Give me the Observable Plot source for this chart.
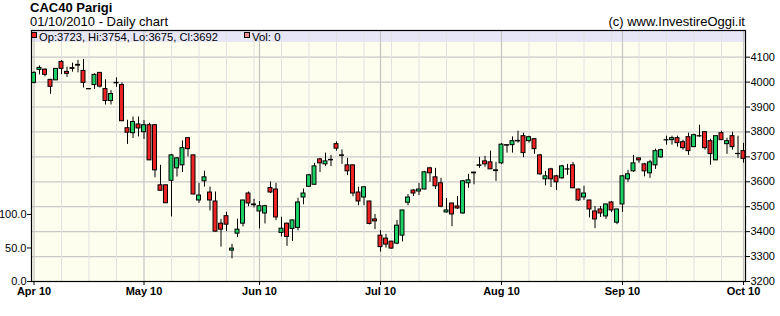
<!DOCTYPE html>
<html>
<head>
<meta charset="utf-8">
<script src="https://cdn.jsdelivr.net/npm/d3@7"></script>
<script src="https://cdn.jsdelivr.net/npm/@observablehq/plot@0.6"></script>
<style>
  body { margin: 0; background: #fff; font-family: "Liberation Sans", Arial, sans-serif; }
  #wrap { width: 780px; }
  #head { position: relative; height: 28px; color: #000; }
  #head div { position: absolute; white-space: nowrap; line-height: 13px; font-size: 13px; }
  #t1 { left: 30px; top: 1px; font-weight: bold; }
  #t2 { left: 30px; top: 15px; }
  #t3 { right: 35px; top: 15px; }
  svg { display: block; }
</style>
</head>
<body>
<div id="wrap">
  <div id="head">
    <div id="t1">CAC40 Parigi</div>
    <div id="t2">01/10/2010 - Daily chart</div>
    <div id="t3">(c) www.InvestireOggi.it</div>
  </div>
  <div id="chart"></div>
</div>
<script>
// ---- data (CAC40 daily, 1 Apr 2010 – 1 Oct 2010) ----
const open = [
  3997,4049,4050,4009,4007,4081,4041,4056,4069,4045,
  3972,3988,4037,3972,3924,3997,3988,3815,3795,3830,
  3799,3827,3827,3586,3586,3604,3654,3666,3775,3706,
  3525,3602,3557,3521,3432,3462,3324,3392,3432,3553,
  3509,3481,3473,3575,3569,3395,3432,3411,3415,3537,
  3580,3588,3690,3670,3688,3751,3706,3666,3666,3557,
  3537,3521,3449,3384,3372,3360,3352,3384,3516,3565,
  3561,3569,3654,3618,3594,3477,3513,3501,3473,3594,
  3637,3666,3682,3678,3646,3674,3747,3747,3764,3783,
  3763,3771,3706,3610,3650,3622,3614,3650,3666,3569,
  3537,3525,3481,3489,3461,3517,3436,3509,3610,3642,
  3694,3670,3634,3666,3698,3767,3767,3775,3759,3779,
  3739,3783,3799,3763,3686,3795,3751,3783,3712,3723];
const high = [
  4041,4065,4053,4011,4054,4087,4060,4076,4087,4091,
  3973,4033,4038,4009,3966,4017,3997,3847,3860,3860,
  3846,3835,3829,3666,3587,3710,3697,3764,3776,3707,
  3594,3642,3579,3559,3449,3478,3349,3450,3526,3559,
  3530,3521,3506,3599,3594,3458,3434,3446,3534,3571,
  3630,3674,3694,3715,3706,3760,3728,3694,3667,3578,
  3579,3522,3469,3404,3389,3361,3445,3486,3549,3568,
  3594,3642,3658,3654,3614,3533,3514,3541,3606,3630,
  3638,3698,3702,3723,3678,3753,3748,3780,3803,3795,
  3783,3772,3710,3642,3654,3626,3666,3670,3678,3570,
  3582,3526,3501,3501,3510,3521,3490,3626,3646,3706,
  3695,3674,3686,3731,3731,3783,3783,3783,3767,3795,
  3791,3827,3801,3771,3784,3803,3775,3799,3783,3754];
const low = [
  3993,4029,4021,3951,4007,4030,4019,4040,4037,3976,
  3971,3971,3976,3908,3908,3979,3842,3750,3774,3780,
  3770,3685,3616,3563,3513,3459,3619,3637,3700,3548,
  3513,3579,3483,3399,3338,3400,3291,3376,3419,3500,
  3495,3411,3431,3553,3444,3379,3341,3361,3403,3508,
  3579,3587,3637,3662,3661,3723,3670,3625,3540,3504,
  3504,3427,3408,3318,3334,3330,3348,3359,3504,3541,
  3545,3568,3598,3569,3496,3475,3420,3489,3469,3574,
  3588,3654,3658,3649,3602,3670,3715,3715,3755,3697,
  3755,3710,3626,3584,3577,3565,3610,3626,3572,3521,
  3525,3455,3412,3457,3449,3477,3428,3477,3598,3638,
  3674,3620,3614,3650,3694,3747,3747,3739,3727,3706,
  3738,3779,3727,3666,3685,3766,3710,3727,3694,3675];
const close = [
  4037,4057,4029,3981,4053,4053,4033,4053,4066,3997,
  3971,4029,3982,3924,3952,3995,3843,3797,3840,3814,
  3827,3686,3646,3564,3514,3706,3694,3735,3731,3549,
  3545,3618,3525,3400,3408,3428,3332,3408,3525,3513,
  3506,3502,3502,3557,3457,3412,3379,3445,3517,3553,
  3626,3662,3674,3682,3686,3733,3704,3642,3553,3521,
  3578,3431,3441,3338,3348,3332,3424,3485,3537,3553,
  3569,3638,3634,3582,3500,3485,3469,3493,3602,3606,
  3634,3664,3670,3650,3643,3749,3745,3763,3762,3715,
  3779,3731,3630,3622,3610,3598,3662,3649,3574,3525,
  3553,3489,3449,3473,3509,3485,3489,3622,3630,3674,
  3686,3642,3678,3723,3727,3766,3775,3755,3735,3723,
  3787,3782,3735,3711,3783,3767,3763,3739,3711,3692];
const volume = 0;
const monthLabels = ["Apr 10","May 10","Jun 10","Jul 10","Aug 10","Sep 10","Oct 10"];
const priceTicks = [3200,3300,3400,3500,3600,3700,3800,3900,4000,4100];
const volTicks = [0, 50, 100];
const holidays = ["2010-04-02","2010-04-05"];

// ---- trading days ----
const fmt = d3.timeFormat("%Y-%m-%d");
const days = d3.timeDay.range(new Date(2010,3,1), new Date(2010,9,2))
  .filter(d => d.getDay() > 0 && d.getDay() < 6 && !holidays.includes(fmt(d)));
const candles = close.map((c, i) => ({i, date: days[i], open: open[i], high: high[i], low: low[i], close: c}));
const monthIdx = [], weekIdx = [];
days.forEach((d, i) => {
  if (i === 0 || d.getMonth() !== days[i-1].getMonth()) monthIdx.push(i);
  else if (d.getDay() === 1) weekIdx.push(i);
});
const volToPrice = v => 3200 + v * 2.69;
const priceToVol = p => Math.round((p - 3200) / 2.69);

const GREEN = "#1ed166", RED = "#ee2424";
const last = candles[candles.length - 1];

function band(index, scales, values, dim) {
  const g = d3.create("svg:g");
  g.append("rect")
    .attr("x", dim.marginLeft).attr("y", dim.marginTop)
    .attr("width", dim.width - dim.marginLeft - dim.marginRight).attr("height", 12)
    .attr("fill", "#e6e6f7");
  return g.node();
}
function legend(index, scales, values, dim) {
  const g = d3.create("svg:g").attr("font-size", 11.4).attr("text-anchor", "start");
  const y0 = dim.marginTop;
  g.append("rect").attr("x", 31.5).attr("y", y0 + 2.5).attr("width", 5).attr("height", 5)
    .attr("fill", RED).attr("stroke", "black");
  g.append("text").attr("x", 39).attr("y", y0 + 10.5).attr("fill", "black").attr("text-anchor", "start")
    .attr("textLength", 179).attr("lengthAdjust", "spacingAndGlyphs")
    .text(`Op:${last.open}, Hi:${last.high}, Lo:${last.low}, Cl:${last.close}`);
  g.append("rect").attr("x", 244.5).attr("y", y0 + 2.5).attr("width", 5).attr("height", 5)
    .attr("fill", "#f29090").attr("stroke", "black");
  g.append("text").attr("x", 252).attr("y", y0 + 10.5).attr("fill", "black").attr("text-anchor", "start")
    .text(`Vol: ${volume}`);
  return g.node();
}

const chart = Plot.plot({
  width: 780, height: 288,
  marginTop: 2, marginBottom: 35, marginLeft: 31, marginRight: 35,
  x: {type: "linear", domain: [0, 129], range: [33.5, 743], label: null},
  y: {domain: [3200, 4100], range: [253, 28.67], label: null},
  style: {fontFamily: '"Liberation Sans", Arial, sans-serif', fontSize: "11px", color: "black", background: "white", overflow: "visible"},
  marks: [
    Plot.frame({fill: "#fefeee"}),
    band,
    Plot.ruleY(priceTicks.slice(1), {stroke: "#c8c8c8", strokeWidth: 1.2}),
    Plot.ruleX(weekIdx, {stroke: "#e2e2e2"}),
    Plot.ruleX(monthIdx, {stroke: "#c4c4c4", strokeWidth: 1.2}),
    Plot.ruleX(candles, {x: "i", y1: "low", y2: "high", stroke: "black"}),
    Plot.rect(candles.filter(d => d.close >= d.open), {x1: d => d.i - 0.36, x2: d => d.i + 0.36, y1: "open", y2: "close", fill: GREEN, stroke: "black"}),
    Plot.rect(candles.filter(d => d.close < d.open), {x1: d => d.i - 0.36, x2: d => d.i + 0.36, y1: "open", y2: "close", fill: RED, stroke: "black"}),
    legend,
    Plot.axisY(priceTicks, {anchor: "right", tickSize: 4, tickPadding: 1, tickFormat: d => String(d), label: null}),
    Plot.axisY(volTicks.map(volToPrice), {anchor: "left", tickSize: 4, tickPadding: 1, tickFormat: d => priceToVol(d).toFixed(1), label: null}),
    Plot.axisX(monthIdx, {anchor: "bottom", tickSize: 4, tickPadding: 2, tickFormat: d => monthLabels[monthIdx.indexOf(d)], fontWeight: "bold", label: null}),
    Plot.frame({stroke: "black", strokeWidth: 1.2})
  ]
});
document.getElementById("chart").appendChild(chart);
</script>
</body>
</html>
